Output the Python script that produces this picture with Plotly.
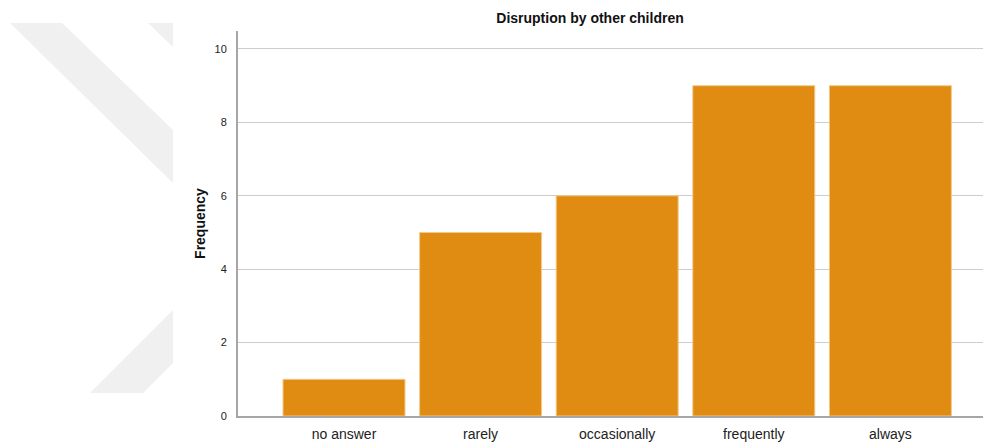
import plotly.graph_objects as go

categories = ["no answer", "rarely", "occasionally", "frequently", "always"]
frequency = [1, 5, 6, 9, 9]
y_ticks = [0, 2, 4, 6, 8, 10]

BAR_COLOR = "#E08C12"
W, H = 985, 443

fig = go.Figure()
fig.add_trace(go.Bar(
    x=categories,
    y=frequency,
    marker=dict(color=BAR_COLOR, line=dict(color="#F2C98A", width=1)),
    hoverinfo="x+y",
))

# faint diagonal background emblem on the left (pixel coords -> paper)
L, R, T, B = 238, 2, 31, 27
pw, ph = W - L - R, H - T - B


def px(x):
    return (x - L) / pw


def py(y):
    return (H - B - y) / ph


def poly(pts):
    d = "M " + " L ".join(f"{px(x):.5f},{py(y):.5f}" for x, y in pts) + " Z"
    return dict(type="path", xref="paper", yref="paper", path=d,
                fillcolor="#F0F0F0", line=dict(width=0), layer="below")


shapes = [
    poly([(10, 23), (62, 23), (173, 130), (173, 183)]),
    poly([(148, 23), (173, 23), (173, 47)]),
    poly([(90, 393), (143, 393), (173, 363), (173, 310)]),
]

fig.update_layout(
    width=W, height=H,
    margin=dict(l=L, r=R, t=T, b=B, pad=0),
    paper_bgcolor="white",
    plot_bgcolor="rgba(0,0,0,0)",
    font=dict(family="Liberation Sans, Arial, sans-serif", color="#222222"),
    title=dict(text="<b>Disruption by other children</b>", x=590 / W, xanchor="center",
               y=1 - 18 / H, yanchor="middle", font=dict(size=14, color="#111111")),
    bargap=0.107,
    showlegend=False,
    shapes=shapes,
    xaxis=dict(
        range=[-0.776, 4.678],
        showline=True, linecolor="#A6A6A6", linewidth=2,
        showgrid=False, zeroline=False,
        ticks="outside", ticklen=4, tickcolor="rgba(0,0,0,0)",
        tickfont=dict(size=14, color="#222222"),
    ),
    yaxis=dict(
        range=[0, 10.49],
        tickvals=y_ticks,
        showline=True, linecolor="#A6A6A6", linewidth=2,
        showgrid=True, gridcolor="#CDCDCD", gridwidth=1,
        zeroline=False,
        ticks="outside", ticklen=7, tickcolor="rgba(0,0,0,0)",
        tickfont=dict(size=11, color="#222222"),
        title=dict(text="<b>Frequency</b>", font=dict(size=14, color="#111111"), standoff=6),
    ),
)

fig.write_html("out.html")
